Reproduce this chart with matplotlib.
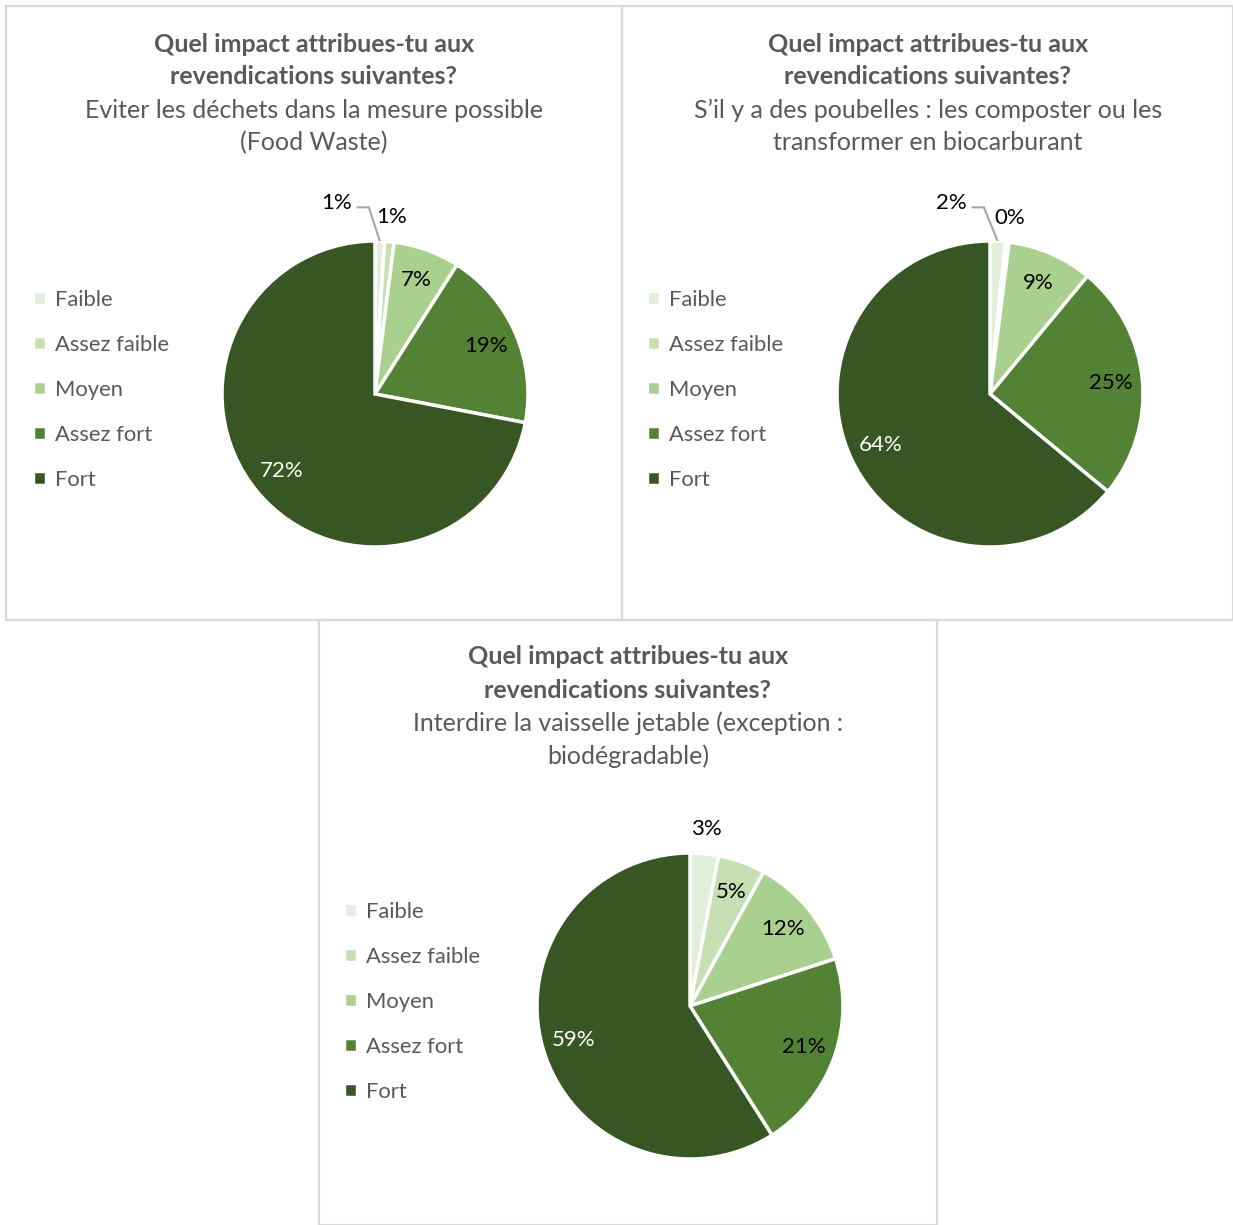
"""Three pie charts: perceived impact of several claims (survey)."""
import matplotlib
matplotlib.use("Agg")
import matplotlib.pyplot as plt
import numpy as np
from matplotlib.patches import Rectangle

W, H = 1233, 1225

categories = ["Faible", "Assez faible", "Moyen", "Assez fort", "Fort"]
colors = ["#E2EFDA", "#C6E0B4", "#A9D08E", "#548235", "#375623"]

title_bold = ["Quel impact attribues-tu aux", "revendications suivantes?"]
subtitles = [
    ["Eviter les déchets dans la mesure possible", "(Food Waste)"],
    ["S\u2019il y a des poubelles : les composter ou les", "transformer en biocarburant"],
    ["Interdire la vaisselle jetable (exception :", "biodégradable)"],
]
food_waste = [1, 1, 7, 19, 72]
compost = [1.6, 0.4, 9, 25, 64]
vaisselle = [3, 5, 12, 21, 59]

plt.rcParams["font.family"] = ["Lato", "DejaVu Sans"]
TXT = "#595959"

fig = plt.figure(figsize=(W / 100, H / 100), dpi=100)


def fx(x):
    return x / W


def fy(y):
    return 1 - y / H


# panel frames (pixel boxes)
frames = [(6, 6, 622, 620), (622, 6, 1233, 620), (319, 620, 937, 1225)]
for x0, y0, x1, y1 in frames:
    fig.add_artist(Rectangle((fx(x0), fy(y1)), fx(x1 - x0), (y1 - y0) / H,
                             fill=False, edgecolor="#D9D9D9", lw=1.6,
                             transform=fig.transFigure))

# (center x, center y, title center x, title top y, legend x, legend y, data, label modes)
panels = [
    (375, 394, 314, 44, 33, 300, food_waste, ["lead", "out", "in", "in", "in"]),
    (990, 394, 928, 44, 647, 300, compost, ["lead", "out", "in", "in", "in"]),
    (690, 1006, 628, 657, 344, 912, vaisselle, ["out", "in", "in", "in", "in"]),
]
R = 153
span = 1.45
FS_T = 18
FS_L = 15.8
FS_P = 16

for i, (cx, cy, tx, ty, lx, ly, vals, modes) in enumerate(panels):
    lines = [(t, "bold") for t in title_bold] + [(t, "normal") for t in subtitles[i]]
    for k, (t, wgt) in enumerate(lines):
        fig.text(fx(tx), fy(ty + 33 * k), t, ha="center", va="center", fontsize=FS_T,
                 fontweight=wgt, color=TXT)

    size = 2 * span * R
    ax = fig.add_axes([fx(cx - size / 2), fy(cy + size / 2), fx(size), size / H])
    wedges, _ = ax.pie(vals, colors=colors, startangle=90, counterclock=False,
                       radius=1, wedgeprops=dict(edgecolor="white", linewidth=2.5))
    ax.set_xlim(-span, span)
    ax.set_ylim(-span, span)
    ax.set_aspect("equal")
    ax.axis("off")

    total = sum(vals)
    start = 90.0
    for v, mode, col in zip(vals, modes, colors):
        ang = start - 360 * v / total / 2
        start -= 360 * v / total
        a = np.deg2rad(ang)
        lab = f"{round(100 * v / total):.0f}%"
        tc = "white" if col == "#375623" else "black"
        if mode == "in":
            ax.text(0.79 * np.cos(a), 0.79 * np.sin(a), lab, ha="center", va="center",
                    fontsize=FS_P, color=tc)
        elif mode == "out":
            ax.text(1.16 * np.cos(a), 1.16 * np.sin(a), lab, ha="center", va="center",
                    fontsize=FS_P, color="black")
        else:
            px, py = np.cos(a), np.sin(a)
            ax.plot([px, -0.04, -0.12], [py, 1.22, 1.22], color="#A6A6A6", lw=1.5,
                    solid_capstyle="butt")
            ax.text(-0.15, 1.25, lab, ha="right", va="center", fontsize=FS_P,
                    color="black")

    fig.legend(wedges, categories, loc="upper left",
               bbox_to_anchor=(fx(lx), fy(ly - 10)), frameon=False,
               fontsize=FS_L, labelcolor=TXT, handlelength=0.6, handleheight=0.6,
               handletextpad=0.4, labelspacing=1.14, borderaxespad=0, borderpad=0)

fig.savefig("out.png", dpi=100)
